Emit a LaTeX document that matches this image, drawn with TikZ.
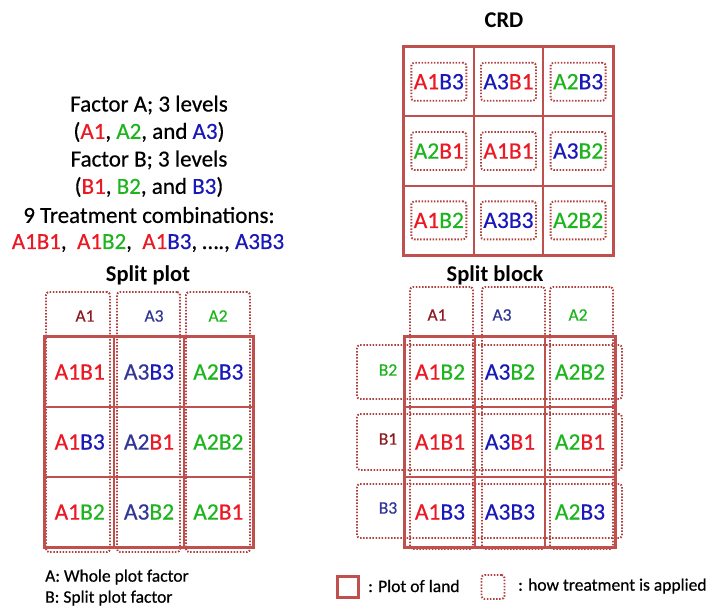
\documentclass[tikz,border=0pt]{standalone}
\usepackage{fontspec}
\setmainfont{Carlito}[UprightFeatures={FakeBold=0.5}]
\definecolor{landc}{RGB}{192,80,77}
\definecolor{dotc}{RGB}{175,65,65}
\definecolor{cR}{RGB}{235,25,35}
\definecolor{cG}{RGB}{30,180,30}
\definecolor{cB}{RGB}{25,25,185}
\definecolor{cN}{RGB}{50,55,150}
\definecolor{hR}{RGB}{140,30,35}
\newcommand\myR[1]{\textcolor{cR}{#1}}
\newcommand\myG[1]{\textcolor{cG}{#1}}
\newcommand\myB[1]{\textcolor{cB}{#1}}
\newcommand\myN[1]{\textcolor{cN}{#1}}
\tikzset{
  cellbox/.style={draw=landc, line width=1.8pt, minimum width=#1, minimum height=69.5pt, inner sep=0pt, font=\fontsize{23.5}{27}\selectfont},
  cellbox/.default=69.6pt,
  dotbox/.style={draw=dotc, line width=1.9pt, dash pattern=on 1.5pt off 1.6pt, rounded corners=3pt, inner sep=0pt},
  outerbox/.style={draw=landc, line width=2.8pt},
  title/.style={font=\fontsize{22.5}{26}\selectfont\bfseries},
  hdr/.style={font=\fontsize{17.5}{20}\selectfont},
  info/.style={font=\fontsize{23}{27}\selectfont, align=center},
  legtext/.style={font=\fontsize{17.5}{20}\selectfont, anchor=west, inner sep=0pt}
}
\begin{document}
\begin{tikzpicture}[x=1pt,y=-1pt]
\useasboundingbox (0,0) rectangle (714,608);

% ---------- left info text
\node[info] (l1) at (149,105) {Factor A; 3 levels};
\node[info] (l2) at (149,132) {(\myR{A1}, \myG{A2}, and \myB{A3})};
\node[info] (l3) at (149,160) {Factor B; 3 levels};
\node[info] (l4) at (149,187) {(\myR{B1}, \myG{B2}, and \myB{B3})};
\node[info] (l5) at (149,215) {9 Treatment combinations:};
\node[info] (l6) at (148,243) {\myR{A1B1},\ \ \myR{A1}\myG{B2},\ \ \myR{A1}\myB{B3}, …., \myB{A3B3}};

% ---------- CRD
\node[title] (crdT) at (504,20) {CRD};
\foreach \t [count=\k from 0] in {
  {\myR{A1}\myB{B3}},{\myB{A3}\myR{B1}},{\myG{A2}\myB{B3}},
  {\myG{A2}\myR{B1}},{\myR{A1B1}},{\myB{A3}\myG{B2}},
  {\myR{A1}\myG{B2}},{\myB{A3B3}},{\myG{A2B2}}}{
  \pgfmathtruncatemacro\r{int(\k/3)}
  \pgfmathtruncatemacro\c{mod(\k,3)}
  \node[cellbox] (crd\k) at ({438.8+69.67*\c},{81.7+69.33*\r}) {};
  \node[dotbox, minimum width=55pt, minimum height=38pt, font=\fontsize{23.5}{27}\selectfont] (crdt\k) at (crd\k.center) {\t};
}
\draw[outerbox] (crd0.north west) rectangle (crd8.south east);

% ---------- Split plot
\node[title] (spT) at (148,275) {Split plot};
\node[dotbox, minimum width=64pt, minimum height=260pt] (spc1) at (78,422) {};
\node[dotbox, minimum width=63pt, minimum height=260pt] (spc2) at (148.5,422) {};
\node[dotbox, minimum width=64pt, minimum height=260pt] (spc3) at (218,422) {};
\node[hdr, text=hR] (spa1) at (85,316) {A1};
\node[hdr, text=cN] (spa3) at (154,316) {A3};
\node[hdr, text=cG] (spa2) at (218,316) {A2};
\foreach \t [count=\k from 0] in {
  {\myR{A1B1}},{\myN{A3}\myB{B3}},{\myG{A2}\myB{B3}},
  {\myR{A1}\myB{B3}},{\myN{A2}\myR{B1}},{\myG{A2B2}},
  {\myR{A1}\myG{B2}},{\myN{A3}\myG{B2}},{\myG{A2}\myR{B1}}}{
  \pgfmathtruncatemacro\r{int(\k/3)}
  \pgfmathtruncatemacro\c{mod(\k,3)}
  \node[cellbox=69.3pt] (sp\k) at ({79.7+69.33*\c},{372+70*\r}) {\t};
}
\draw[outerbox] (sp0.north west) rectangle (sp8.south east);

% ---------- Split block
\node[title] (sbT) at (495,275) {Split block};
\node[dotbox, minimum width=63pt, minimum height=262pt] (sbc1) at (441.5,418) {};
\node[dotbox, minimum width=63pt, minimum height=262pt] (sbc2) at (513.5,418) {};
\node[dotbox, minimum width=63pt, minimum height=262pt] (sbc3) at (581.5,418) {};
\node[dotbox, minimum width=265pt, minimum height=54pt] (sbr1) at (489.5,372) {};
\node[dotbox, minimum width=265pt, minimum height=56pt] (sbr2) at (489.5,442) {};
\node[dotbox, minimum width=265pt, minimum height=54pt] (sbr3) at (489.5,511) {};
\node[hdr, text=hR] (sba1) at (437,315) {A1};
\node[hdr, text=cN] (sba3) at (502,315) {A3};
\node[hdr, text=cG] (sba2) at (578,315) {A2};
\node[hdr, text=cG] (sbb2) at (388,370) {B2};
\node[hdr, text=hR] (sbb1) at (388,439) {B1};
\node[hdr, text=cN] (sbb3) at (388,508) {B3};
\foreach \t [count=\k from 0] in {
  {\myR{A1}\myG{B2}},{\myB{A3}\myG{B2}},{\myG{A2B2}},
  {\myR{A1B1}},{\myB{A3}\myR{B1}},{\myG{A2}\myR{B1}},
  {\myR{A1}\myB{B3}},{\myB{A3B3}},{\myG{A2}\myB{B3}}}{
  \pgfmathtruncatemacro\r{int(\k/3)}
  \pgfmathtruncatemacro\c{mod(\k,3)}
  \node[cellbox=70pt] (sb\k) at ({440+70*\c},{372+70*\r}) {\t};
}
\draw[outerbox] (sb0.north west) rectangle (sb8.south east);

% ---------- legend
\node[legtext] (legA) at (45,577) {A: Whole plot factor};
\node[legtext] (legB) at (45,598) {B: Split plot factor};
\node[draw=landc, line width=2.4pt, minimum width=21pt, minimum height=21pt, inner sep=0pt] (legS) at (348,587) {};
\node[legtext] (legSt) at (368,586) {: Plot of land};
\node[dotbox, minimum width=23pt, minimum height=24pt] (legD) at (493,587) {};
\node[legtext] (legDt) at (518,586) {: how treatment is applied};
\end{tikzpicture}
\end{document}
